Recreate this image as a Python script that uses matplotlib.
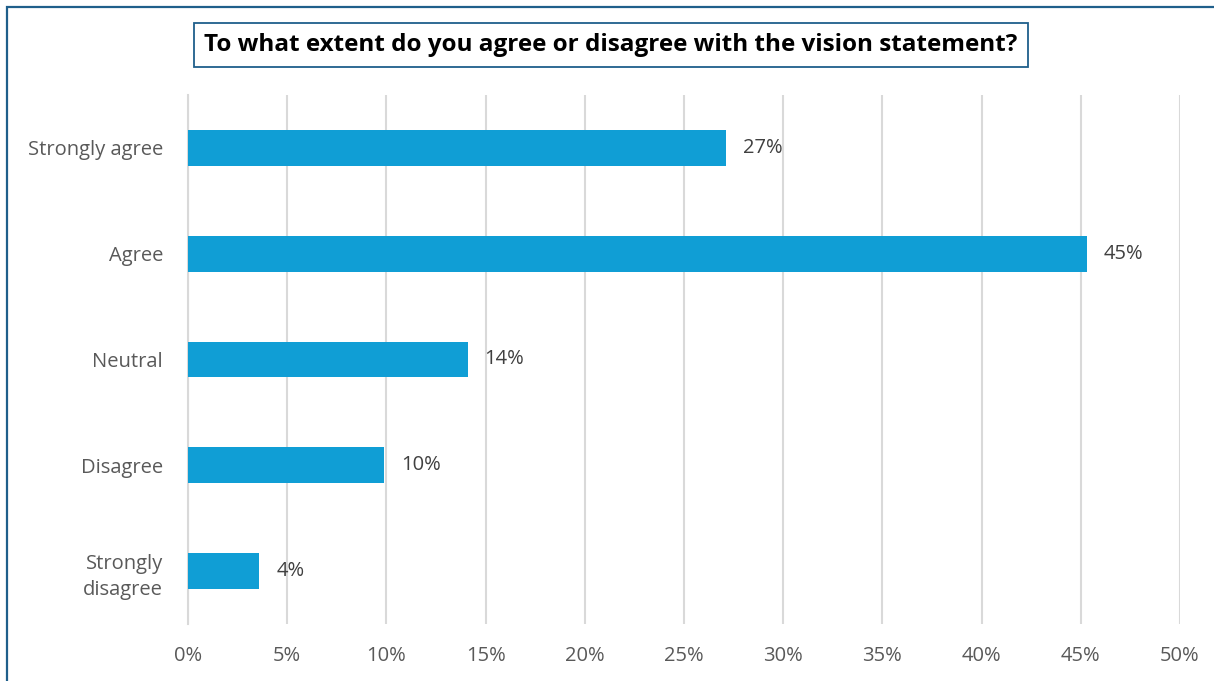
import matplotlib.pyplot as plt
from matplotlib.patches import Rectangle

# survey responses (percent of respondents)
categories = ["Strongly agree", "Agree", "Neutral", "Disagree", "Strongly\ndisagree"]
shares = [27.1, 45.3, 14.1, 9.9, 3.6]
xticks = [0, 5, 10, 15, 20, 25, 30, 35, 40, 45, 50]

title = "To what extent do you agree or disagree with the vision statement?"

BAR = "#109ED5"
GRID = "#D9D9D9"
TXT = "#595959"
FRAME = "#1F5F8B"

plt.rcParams['font.family'] = ['Open Sans', 'DejaVu Sans']

W, H = 1214, 681
fig = plt.figure(figsize=(W / 100, H / 100), dpi=100)
ax = fig.add_axes([188 / W, 1 - 624 / H, (1180 - 188) / W, (624 - 95) / H])

ypos = list(range(len(categories)))
ax.barh(ypos, shares, height=0.34, color=BAR, zorder=3)
for y, v in zip(ypos, shares):
    ax.text(v + 0.85, y, f"{v:.0f}%", va="center", ha="left",
            fontsize=14.5, color="#404040")

ax.set_xlim(0, 50)
ax.set_ylim(len(categories) - 0.5, -0.5)
ax.set_yticks(ypos)
ax.set_yticklabels(categories, fontsize=14.5, color=TXT, ha="right",
                   linespacing=1.45)
ax.set_xticks(xticks)
ax.set_xticklabels([f"{t}%" for t in xticks], fontsize=14.5, color=TXT)
ax.tick_params(axis="x", length=0, pad=16)
ax.tick_params(axis="y", length=0, pad=18)
ax.xaxis.grid(True, color=GRID, linewidth=1.5, zorder=0)
for s in ax.spines.values():
    s.set_visible(False)
ax.spines["left"].set_visible(True)
ax.spines["left"].set_color(GRID)
ax.spines["left"].set_linewidth(1.5)

# outer frame, cut off at the right and bottom
fig.patches.append(Rectangle((7 / W, -0.1), 1.2, 1 - 7 / H + 0.1,
                             transform=fig.transFigure, fill=False,
                             edgecolor=FRAME, linewidth=1.6))

fig.text(611 / W, 1 - 45 / H, title, ha="center", va="center",
         fontsize=17.5, fontweight="bold", color="black",
         bbox=dict(boxstyle="square,pad=0.42", facecolor="white",
                   edgecolor=FRAME, linewidth=1.3))

fig.savefig("out.png", dpi=100)
